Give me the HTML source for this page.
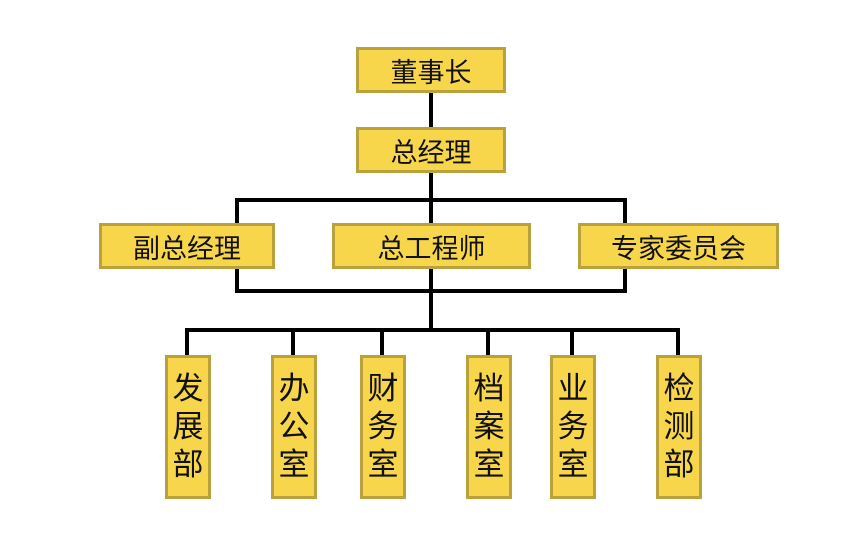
<!DOCTYPE html>
<html><head><meta charset="utf-8"><style>
body{margin:0;width:849px;height:556px;background:#fff;position:relative;overflow:hidden;font-family:"Liberation Sans","Noto Sans CJK SC",sans-serif}
.b{position:absolute;box-sizing:border-box;background:#f8d64c;border:3px solid #b9a23e;color:#111;display:flex;align-items:center;justify-content:center;font-size:27px}
.v{flex-direction:column;font-size:31px;line-height:38px}
.l{position:absolute;background:#000}
</style></head><body>
<div class="l" style="left:429px;top:92px;width:4px;height:36px"></div>
<div class="l" style="left:429px;top:172px;width:4px;height:158px"></div>
<div class="l" style="left:235px;top:198px;width:392px;height:4px"></div>
<div class="l" style="left:235px;top:198px;width:4px;height:95px"></div>
<div class="l" style="left:623px;top:198px;width:4px;height:95px"></div>
<div class="l" style="left:235px;top:289px;width:392px;height:4px"></div>
<div class="l" style="left:185px;top:328px;width:495px;height:4px"></div>
<div class="l" style="left:185px;top:328px;width:4px;height:28px"></div>
<div class="l" style="left:291px;top:328px;width:4px;height:28px"></div>
<div class="l" style="left:380px;top:328px;width:4px;height:28px"></div>
<div class="l" style="left:486px;top:328px;width:4px;height:28px"></div>
<div class="l" style="left:570px;top:328px;width:4px;height:28px"></div>
<div class="l" style="left:676px;top:328px;width:4px;height:28px"></div>
<div class="b" style="left:356px;top:47px;width:150px;height:46px">董事长</div>
<div class="b" style="left:356px;top:127px;width:150px;height:46px">总经理</div>
<div class="b" style="left:99px;top:223px;width:176px;height:46px">副总经理</div>
<div class="b" style="left:332px;top:223px;width:199px;height:46px">总工程师</div>
<div class="b" style="left:578px;top:223px;width:201px;height:46px">专家委员会</div>
<div class="b v" style="left:165px;top:355px;width:46px;height:144px">发<br>展<br>部</div>
<div class="b v" style="left:271px;top:355px;width:46px;height:144px">办<br>公<br>室</div>
<div class="b v" style="left:360px;top:355px;width:46px;height:144px">财<br>务<br>室</div>
<div class="b v" style="left:466px;top:355px;width:46px;height:144px">档<br>案<br>室</div>
<div class="b v" style="left:550px;top:355px;width:46px;height:144px">业<br>务<br>室</div>
<div class="b v" style="left:656px;top:355px;width:46px;height:144px">检<br>测<br>部</div>
</body></html>
